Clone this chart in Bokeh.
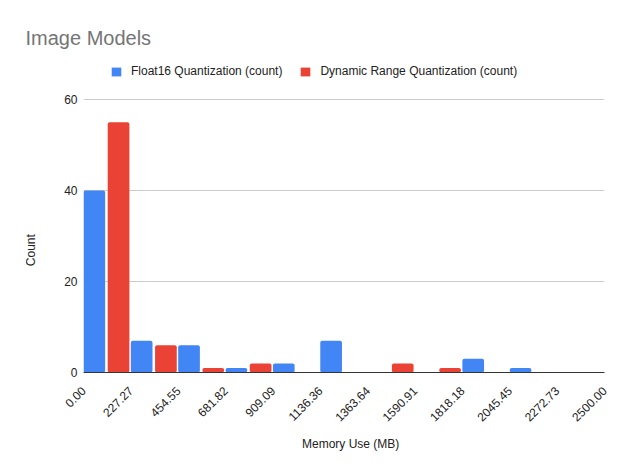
from bokeh.plotting import figure
from bokeh.models import (ColumnDataSource, FixedTicker, Range1d, Legend,
                          LegendItem, PrintfTickFormatter)
from bokeh.embed import file_html
from bokeh.resources import INLINE

# ---- data ----
title_text = "Image Models"
series_names = ["Float16 Quantization (count)", "Dynamic Range Quantization (count)"]
x_min = 0.0
x_max = 2500.0
n_bins = 11
float16_counts = [40, 7, 6, 1, 2, 7, 0, 0, 3, 1, 0]
dynamic_counts = [55, 6, 1, 2, 0, 0, 2, 1, 0, 0, 0]
y_ticks = [0, 20, 40, 60]
x_label = "Memory Use (MB)"
y_label = "Count"

BLUE = "#4285F4"
RED = "#EA4335"
FONT = "Liberation Sans"
NBSP = "\u00a0"

# layout (pixels): frame top, pixel row of the top gridline, pixel row of zero
FRAME_TOP = 54
TOP_GRID_PX = 99
ZERO_PX = 372
HEIGHT = 463
y_top_value = y_ticks[-1] * (ZERO_PX - FRAME_TOP) / (ZERO_PX - TOP_GRID_PX)

bin_w = (x_max - x_min) / n_bins
edges = [x_min + i * bin_w for i in range(n_bins + 1)]
lefts = edges[:-1]

def src(counts, frac):
    xs = [l + frac * bin_w for l, c in zip(lefts, counts) if c > 0]
    ys = [c for c in counts if c > 0]
    return ColumnDataSource(dict(x=xs, top=ys))

p = figure(width=621, height=HEIGHT, output_backend="svg", toolbar_location=None,
           x_range=Range1d(x_min, x_max), y_range=Range1d(0, y_top_value),
           min_border_left=83, min_border_right=17, min_border_top=FRAME_TOP,
           min_border_bottom=HEIGHT - ZERO_PX)
p.outline_line_color = None
p.background_fill_color = "white"
p.border_fill_color = "white"

p.title.text = title_text
p.title.align = "left"
p.title.offset = -58
p.title.standoff = 11
p.title.text_font = FONT
p.title.text_font_size = "20px"
p.title.text_color = "#757575"
p.title.text_font_style = "normal"

bw = 0.458 * bin_w
r1 = p.vbar(x="x", top="top", bottom=0, width=bw, source=src(float16_counts, 0.228),
            fill_color=BLUE, line_color=None, border_radius=2)
r2 = p.vbar(x="x", top="top", bottom=0, width=bw, source=src(dynamic_counts, 0.74),
            fill_color=RED, line_color=None, border_radius=2)

# axes
p.xgrid.visible = False
p.ygrid.grid_line_color = "#cccccc"
p.ygrid.ticker = FixedTicker(ticks=y_ticks)

xa = p.xaxis[0]
xa.ticker = FixedTicker(ticks=edges)
xa.formatter = PrintfTickFormatter(format="%.2f")
xa.major_label_orientation = 0.785398
xa.major_tick_line_color = None
xa.minor_tick_line_color = None
xa.axis_line_color = "#333333"
xa.major_label_text_font = FONT
xa.major_label_text_font_size = "12px"
xa.major_label_text_color = "#222222"
xa.major_label_standoff = 10
xa.axis_label = NBSP * 4 + x_label
xa.axis_label_text_font = FONT
xa.axis_label_text_font_size = "12px"
xa.axis_label_text_font_style = "normal"
xa.axis_label_text_color = "#222222"
xa.axis_label_standoff = 8

ya = p.yaxis[0]
ya.ticker = FixedTicker(ticks=y_ticks)
ya.axis_line_color = None
ya.major_tick_line_color = None
ya.minor_tick_line_color = None
ya.major_tick_out = 0
ya.minor_tick_out = 0
ya.major_label_text_font = FONT
ya.major_label_text_font_size = "12px"
ya.major_label_text_color = "#222222"
ya.major_label_standoff = 6
ya.axis_label = y_label + NBSP * 22
ya.axis_label_text_font = FONT
ya.axis_label_text_font_size = "12px"
ya.axis_label_text_font_style = "normal"
ya.axis_label_text_color = "#222222"
ya.axis_label_standoff = 23

legend = Legend(items=[LegendItem(label=series_names[0], renderers=[r1]),
                       LegendItem(label=series_names[1], renderers=[r2])],
                orientation="horizontal", location=(27, 294),
                label_text_font=FONT, label_text_font_size="12px",
                label_text_color="#222222", glyph_width=12, glyph_height=11,
                label_standoff=9, spacing=17, padding=0, margin=0,
                border_line_color=None, background_fill_alpha=0)
p.add_layout(legend)

open("out.html", "w").write(file_html(p, INLINE))
